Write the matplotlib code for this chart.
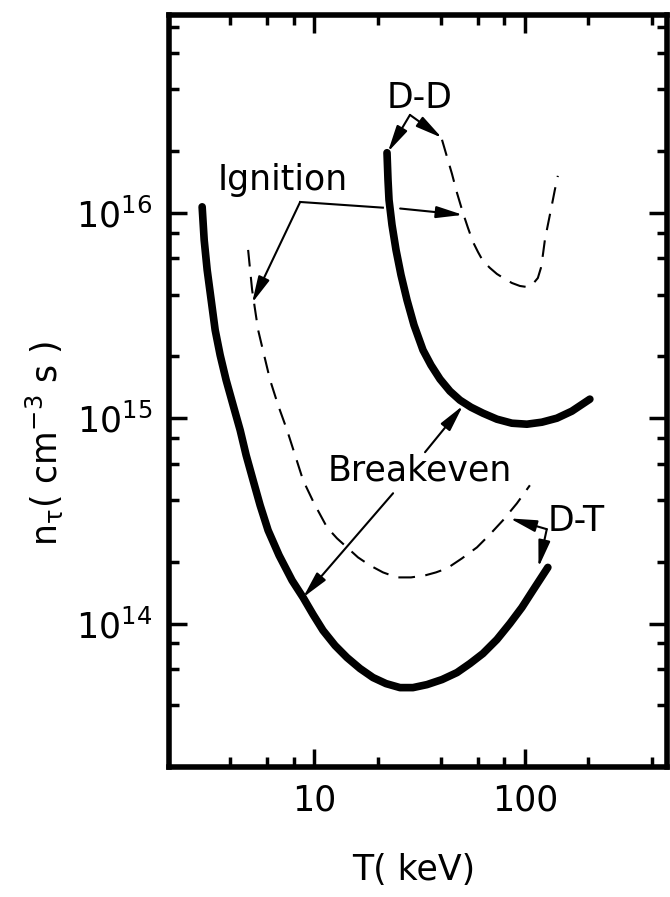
import matplotlib
matplotlib.use("Agg")
import matplotlib.pyplot as plt

plt.rcParams['font.family'] = ['DejaVu Sans']
plt.rcParams['mathtext.default'] = 'regular'

# D-T breakeven (thick solid)
dt_break_T = [2.945, 3.011, 3.111, 3.250, 3.395, 3.585, 3.827, 4.131, 4.461, 4.762,
              5.138, 5.548, 6.053, 6.826, 7.866, 8.870, 9.892, 11.03, 12.58,
              14.33, 16.52, 19.04, 21.94, 25.56, 29.45, 34.32, 40.44, 47.62, 54.87,
              63.22, 73.68, 84.89, 96.78, 109.1, 128.5]
dt_break_nt = [1.070e16, 7.385e15, 5.272e15, 3.764e15, 2.688e15, 2.029e15, 1.533e15,
               1.157e15, 8.740e14, 6.600e14, 4.984e14, 3.764e14, 2.842e14, 2.146e14,
               1.621e14, 1.339e14, 1.106e14, 9.245e13, 7.812e13, 6.826e13,
               6.034e13, 5.454e13, 5.097e13, 4.873e13, 4.873e13, 5.040e13, 5.333e13,
               5.768e13, 6.381e13, 7.139e13, 8.356e13, 1.0e14, 1.197e14, 1.449e14,
               1.876e14]

# D-T ignition (dashed)
dt_ign_T = [4.866, 4.973, 5.084, 5.253, 5.428, 5.794, 6.187, 6.751, 7.447, 8.128,
            8.870, 10.0, 11.52, 12.85, 14.33, 16.16, 18.42, 21.23, 24.74, 28.82,
            33.58, 37.86, 42.69, 50.29, 59.23, 68.26, 78.66, 91.66, 105.6]
dt_ign_nt = [6.600e15, 5.272e15, 4.210e15, 3.363e15, 2.688e15, 2.029e15, 1.533e15,
             1.157e15, 8.740e14, 6.600e14, 4.984e14, 3.849e14, 2.939e14, 2.598e14,
             2.348e14, 2.099e14, 1.918e14, 1.774e14, 1.677e14, 1.677e14, 1.715e14,
             1.774e14, 1.855e14, 2.076e14, 2.348e14, 2.718e14, 3.180e14, 3.849e14,
             4.712e14]

# D-D breakeven (thick solid)
dd_break_T = [22.18, 22.42, 22.67, 23.42, 24.47, 25.84, 27.59, 29.78, 32.86, 35.85,
              39.56, 44.11, 49.20, 55.48, 63.22, 73.68, 86.77, 102.2, 120.4, 141.8,
              167.0, 203.3]
dd_break_nt = [1.963e16, 1.449e16, 1.157e16, 8.740e15, 6.600e15, 4.984e15, 3.764e15,
               2.842e15, 2.146e15, 1.814e15, 1.550e15, 1.354e15, 1.224e15, 1.131e15,
               1.058e15, 9.888e14, 9.454e14, 9.348e14, 9.561e14, 1.0e15, 1.082e15,
               1.238e15]

# D-D ignition (dashed)
dd_ign_T = [40.44, 42.69, 45.08, 47.62, 50.84, 53.70, 56.71, 59.88, 63.22, 68.26,
            73.68, 80.42, 86.77, 94.69, 102.2, 109.1, 115.2, 119.1, 121.7, 124.4,
            128.5, 134.3, 138.7, 143.3]
dd_ign_nt = [2.270e16, 1.876e16, 1.550e16, 1.252e16, 1.0e16, 8.451e15, 7.221e15,
             6.454e15, 5.833e15, 5.392e15, 5.040e15, 4.764e15, 4.555e15, 4.405e15,
             4.355e15, 4.505e15, 4.818e15, 5.392e15, 6.239e15, 7.385e15, 8.740e15,
             1.094e16, 1.295e16, 1.515e16]

x_major = [10, 100]
x_major_labels = ['10', '100']
x_minor = [4, 6, 8, 20, 40, 60, 80, 200, 400]
y_major = [1e14, 1e15, 1e16]
y_major_labels = ['$10^{14}$', '$10^{15}$', '$10^{16}$']
y_minor = [m * 10.0 ** e for e in (13, 14, 15, 16) for m in (2, 4, 6, 8)]

fig = plt.figure(figsize=(6.7, 8.97), dpi=100)
ax = fig.add_axes([0.2522, 0.1449, 0.9955 - 0.2522, 0.9833 - 0.1449])
ax.set_xscale('log')
ax.set_yscale('log')
ax.set_xlim(2.05, 472)
ax.set_ylim(2e13, 9.2e16)

ax.plot(dt_break_T, dt_break_nt, color='black', lw=5.5, solid_capstyle='round',
        solid_joinstyle='round')
ax.plot(dd_break_T, dd_break_nt, color='black', lw=5.5, solid_capstyle='round',
        solid_joinstyle='round')
ax.plot(dt_ign_T, dt_ign_nt, color='black', lw=1.5, dashes=(8, 5))
ax.plot(dd_ign_T, dd_ign_nt, color='black', lw=1.5, dashes=(8, 5))

ax.set_xticks(x_major)
ax.set_xticklabels(x_major_labels)
ax.set_xticks(x_minor, minor=True)
ax.set_xticklabels([], minor=True)
ax.set_yticks(y_major)
ax.set_yticklabels(y_major_labels)
ax.set_yticks([v for v in y_minor if 2e13 < v < 9.2e16], minor=True)
ax.set_yticklabels([], minor=True)
ax.tick_params(which='both', direction='in', top=True, right=True, width=2.5,
               labelsize=25)
ax.tick_params(which='major', length=13, pad=12)
ax.tick_params(which='minor', length=7)
for s in ax.spines.values():
    s.set_linewidth(4)

arrow = dict(arrowstyle='-|>,head_length=0.9,head_width=0.2', color='black',
             lw=1.5, mutation_scale=18, shrinkA=0, shrinkB=0)
fs = 25

# D-D
ax.text(31.8, 3.64e16, 'D-D', fontsize=fs, ha='center', va='center')
ax.annotate('', xy=(22.4, 1.98e16), xytext=(28.5, 3.0e16), arrowprops=arrow)
ax.annotate('', xy=(40.4, 2.32e16), xytext=(28.5, 3.0e16), arrowprops=arrow)

# Ignition
ax.text(7.13, 1.45e16, 'Ignition', fontsize=fs, ha='center', va='center')
ax.annotate('', xy=(5.08, 3.64e15), xytext=(8.59, 1.13e16), arrowprops=arrow)
ax.plot([8.59, 21.2], [1.13e16, 1.06e16], color='black', lw=1.5)
ax.annotate('', xy=(50.8, 9.78e15), xytext=(25.6, 1.05e16), arrowprops=arrow)

# Breakeven
ax.text(31.8, 5.58e14, 'Breakeven', fontsize=fs, ha='center', va='center')
ax.annotate('', xy=(50.8, 1.15e15), xytext=(33.6, 6.83e14), arrowprops=arrow)
ax.annotate('', xy=(8.87, 1.34e14), xytext=(23.7, 4.31e14), arrowprops=arrow)

# D-T
ax.text(176, 3.15e14, 'D-T', fontsize=fs, ha='center', va='center')
ax.annotate('', xy=(84.9, 3.25e14), xytext=(127, 2.88e14), arrowprops=arrow)
ax.annotate('', xy=(116, 1.88e14), xytext=(127, 2.88e14), arrowprops=arrow)

fig.text(0.618, 0.030, 'T( keV)', fontsize=fs, ha='center', va='center')
fig.text(0.067, 0.506, r'n$_\tau$( cm$^{-3}$ s )', fontsize=fs, ha='center',
         va='center', rotation=90)

fig.savefig('out.png', dpi=100)
